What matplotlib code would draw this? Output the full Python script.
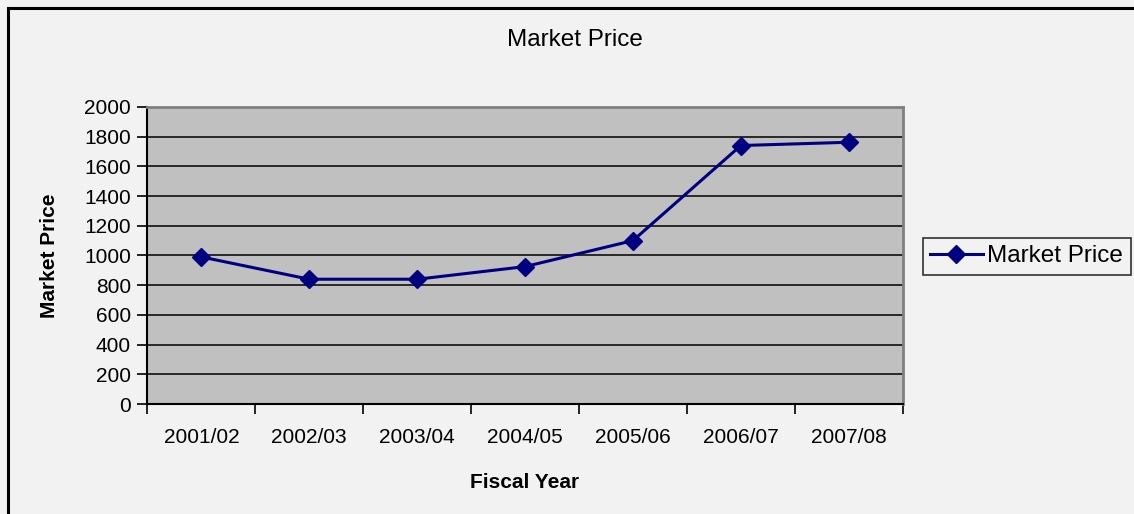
import matplotlib
matplotlib.use('Agg')
import matplotlib.pyplot as plt
from matplotlib.patches import Rectangle

years = ['2001/02', '2002/03', '2003/04', '2004/05', '2005/06', '2006/07', '2007/08']
price = [990, 840, 840, 925, 1100, 1740, 1762]

plt.rcParams['font.family'] = ['Liberation Sans', 'DejaVu Sans']

fig = plt.figure(figsize=(11.34, 5.14), dpi=100, facecolor='#f2f2f2')
ax = fig.add_axes([0.130, 0.214, 0.666, 0.578])
ax.set_facecolor('#c0c0c0')

# outer frame of the chart
fig.patches.append(Rectangle((8 / 1134, -0.1), 1.2, (514 - 8) / 514 + 0.1,
                             transform=fig.transFigure, fill=False,
                             edgecolor='black', linewidth=2.2))

x = list(range(len(years)))
ax.plot(x, price, color='#000080', linewidth=2.2, marker='D', markersize=9.5,
        label='Market Price')

ax.set_xlim(-0.5, len(years) - 0.5)
ax.set_ylim(0, 2000)
ax.set_yticks(range(0, 2001, 200))
ax.yaxis.grid(True, color='black', linewidth=1.1)
ax.set_axisbelow(True)

# category labels in the middle, ticks on the boundaries
ax.set_xticks([i - 0.5 for i in range(len(years) + 1)])
ax.set_xticklabels([])
ax.set_xticks(x, minor=True)
ax.set_xticklabels(years, minor=True)
ax.tick_params(axis='x', which='minor', length=0, pad=17, labelsize=15)
ax.tick_params(axis='x', which='major', length=7, width=1.2, direction='out')
ax.tick_params(axis='y', length=7, width=1.2, direction='out', labelsize=15, pad=5)

for side in ['top', 'right']:
    ax.spines[side].set_color('#808080')
    ax.spines[side].set_linewidth(2)
for side in ['left', 'bottom']:
    ax.spines[side].set_color('black')
    ax.spines[side].set_linewidth(1.5)

ax.set_xlabel('Fiscal Year', fontsize=15, fontweight='bold', labelpad=19)
ax.set_ylabel('Market Price', fontsize=15, fontweight='bold', labelpad=18)
fig.text(0.507, 0.922, 'Market Price', ha='center', va='center', fontsize=17.5)

leg = fig.legend(loc='center left', bbox_to_anchor=(0.814, 0.501), fontsize=17.5,
                 frameon=True, fancybox=False, handlelength=2.15, borderpad=0.3,
                 handletextpad=0.2, borderaxespad=0)
leg.get_frame().set_edgecolor('black')
leg.get_frame().set_facecolor('#f2f2f2')
leg.get_frame().set_linewidth(1.2)

fig.savefig('out.png', dpi=100, facecolor=fig.get_facecolor())
